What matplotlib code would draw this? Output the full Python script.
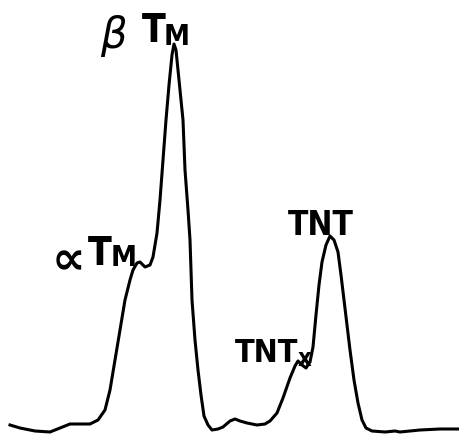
import numpy as np
import matplotlib.pyplot as plt

# densitometer scan: position along gel (px) and trace height (px above bottom)
pos = [10, 20, 35, 50, 60, 70, 90, 98, 105, 110, 115, 120, 125, 130, 133, 137,
       140, 145, 150, 153, 157, 160, 163, 166, 169, 172, 174, 176, 179, 183,
       185, 188, 190, 192, 195, 198, 201, 204, 208, 212, 218, 223, 230, 235,
       240, 247, 257, 265, 270, 277, 283, 290, 295, 298, 302, 306, 310, 313,
       316, 319, 322, 326, 330, 334, 338, 341, 344, 347, 350, 354, 358, 362,
       366, 372, 385, 395, 400, 420, 440, 460]
signal = [13, 10, 7, 6, 10, 14, 14, 18, 28, 48, 78, 108, 138, 158, 168, 175,
          176, 171, 173, 181, 205, 238, 278, 318, 353, 383, 394, 388, 358, 318,
          268, 228, 198, 138, 98, 68, 43, 22, 13, 8, 9, 11, 17, 19,
          17, 15, 13, 14, 17, 25, 40, 60, 72, 77, 73, 70, 76, 91,
          123, 153, 176, 193, 202, 198, 186, 163, 138, 113, 88, 58, 35, 18,
          10, 7, 6, 7, 6, 8, 9, 9]

W, H = 460, 438

fig = plt.figure(figsize=(4.6, 4.38), dpi=100)
ax = fig.add_axes([0, 0, 1, 1])
ax.plot(pos, signal, color='black', lw=2.2, solid_joinstyle='round')
ax.set_xlim(0, W)
ax.set_ylim(0, H)
ax.axis('off')


def label(x, py, s, size, ha='left'):
    # x: anchor, py: baseline measured from top of picture
    ax.text(x, H - py, s, fontsize=size, fontweight='bold', family='DejaVu Sans',
            fontstretch='condensed', ha=ha, va='baseline')


# beta TM
ax.text(113, H - 36, 'β', fontsize=30, style='italic', family='DejaVu Sans',
        ha='center', va='center')
label(142, 42, 'T', 28)
label(164, 45, 'M', 21)

# alpha TM
ax.text(68, H - 262, '∝', fontsize=34, fontweight='bold', family='DejaVu Sans',
        ha='center', va='center')
label(88, 265, 'T', 28)
label(111, 266, 'M', 21)

# TNT
label(321, 235, 'TNT', 24, ha='center')

# TNTx
label(267, 362, 'TNT', 23, ha='center')
label(298, 366, 'x', 17)

plt.savefig('out.png', dpi=100)
